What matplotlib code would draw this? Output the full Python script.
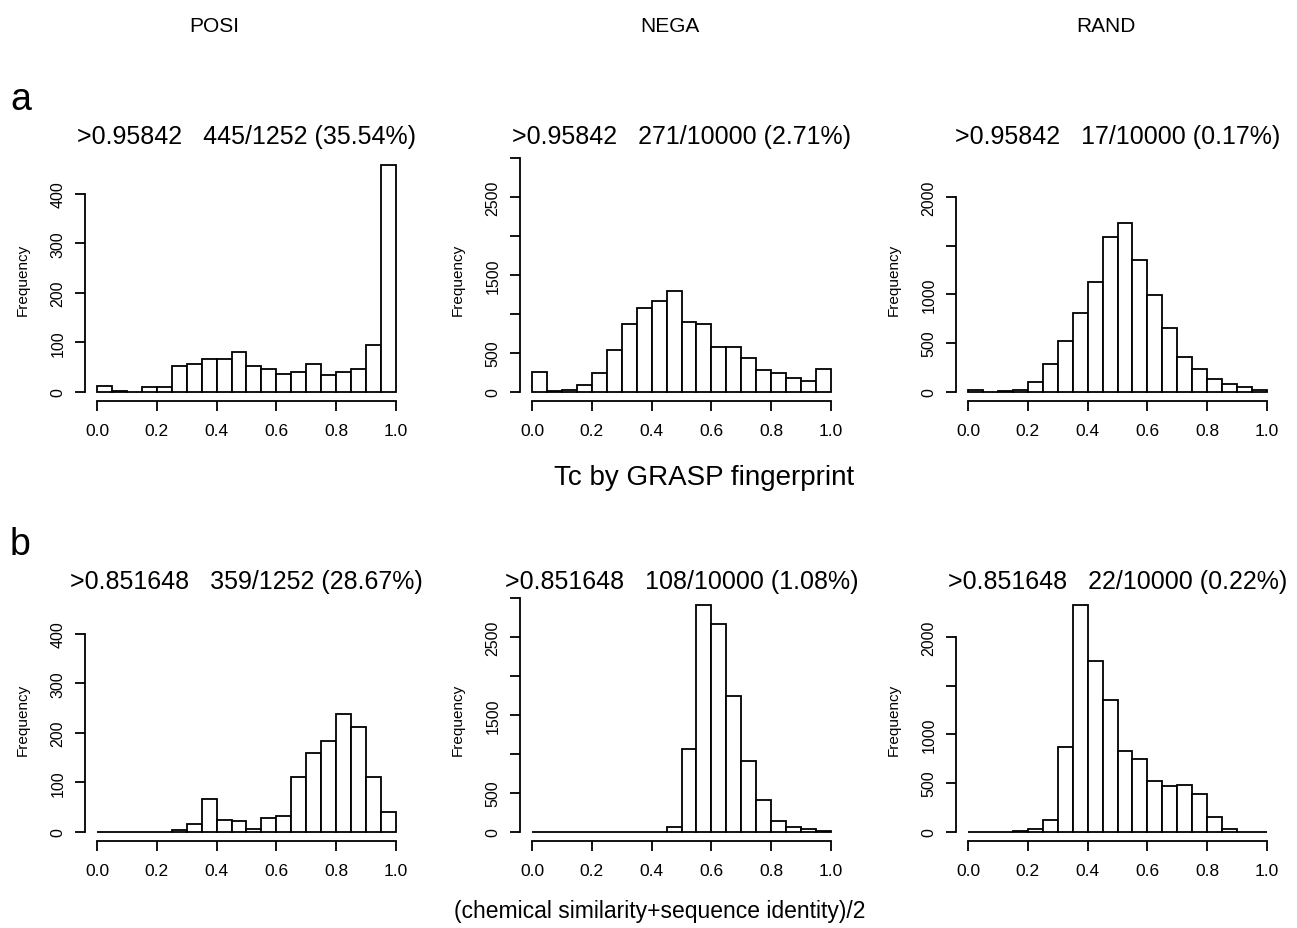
import numpy as np
import matplotlib
matplotlib.use('Agg')
import matplotlib.pyplot as plt

plt.rcParams['font.family'] = ['Liberation Sans', 'DejaVu Sans']

# bin edges of the histograms (20 bins of width 0.05)
bin_edges = np.linspace(0.0, 1.0, 21)

# row a: Tc by GRASP fingerprint
posi_tc = [11, 2, 0, 10, 9, 52, 57, 67, 67, 80, 52, 47, 36, 40, 57, 34, 40, 46, 95, 458]
nega_tc = [254, 8, 21, 93, 242, 542, 869, 1081, 1169, 1292, 903, 873, 581, 581, 432, 280, 246, 178, 136, 288]
rand_tc = [24, 3, 10, 24, 98, 288, 525, 810, 1125, 1586, 1729, 1353, 993, 651, 353, 231, 132, 78, 47, 24]

# row b: (chemical similarity + sequence identity) / 2
posi_mix = [0, 0, 0, 0, 0, 4, 15, 67, 25, 23, 5, 29, 33, 111, 160, 184, 238, 211, 110, 40]
nega_mix = [0, 0, 0, 0, 0, 0, 0, 0, 0, 68, 1062, 2910, 2673, 1739, 909, 406, 144, 68, 38, 17]
rand_mix = [0, 0, 0, 10, 31, 119, 869, 2326, 1749, 1351, 825, 750, 520, 472, 482, 387, 153, 31, 0, 0]

columns = ['POSI', 'NEGA', 'RAND']
titles_a = ['>0.95842   445/1252 (35.54%)',
            '>0.95842   271/10000 (2.71%)',
            '>0.95842   17/10000 (0.17%)']
titles_b = ['>0.851648   359/1252 (28.67%)',
            '>0.851648   108/10000 (1.08%)',
            '>0.851648   22/10000 (0.22%)']

yticks = [[0, 100, 200, 300, 400],
          [0, 500, 1000, 1500, 2000, 2500, 3000],
          [0, 500, 1000, 1500, 2000]]
ytick_labels = [['0', '100', '200', '300', '400'],
                ['0', '500', '', '1500', '', '2500', ''],
                ['0', '500', '1000', '', '2000']]
xticks = [0.0, 0.2, 0.4, 0.6, 0.8, 1.0]
xtick_labels = ['0.0', '0.2', '0.4', '0.6', '0.8', '1.0']

W, H = 1297, 929
fig = plt.figure(figsize=(W / 100, H / 100), dpi=100)

col_left = [85, 520, 956]
panel_w = 323
panel_h = 245
row_bottom = [402, 842]   # pixel y of plot region bottom, from the top

rows = [[posi_tc, nega_tc, rand_tc], [posi_mix, nega_mix, rand_mix]]
titles = [titles_a, titles_b]
title_pad = [9, 6]
lw = 1.3

for r in range(2):
    for c in range(3):
        left = col_left[c] / W
        bottom = (H - row_bottom[r]) / H
        ax = fig.add_axes([left, bottom, panel_w / W, panel_h / H])
        counts = rows[r][c]
        ax.bar(bin_edges[:-1], counts, width=np.diff(bin_edges), align='edge',
               facecolor='white', edgecolor='black', linewidth=lw)

        # same y range for both rows of a column
        m = max(max(rows[0][c]), max(rows[1][c]))
        ax.set_ylim(-0.04 * m, 1.04 * m)
        ax.set_xlim(-0.04, 1.04)

        ax.spines['top'].set_visible(False)
        ax.spines['right'].set_visible(False)
        ax.spines['left'].set_bounds(yticks[c][0], yticks[c][-1])
        ax.spines['bottom'].set_bounds(0.0, 1.0)
        for s in ('left', 'bottom'):
            ax.spines[s].set_linewidth(lw)

        ax.set_xticks(xticks)
        ax.set_xticklabels(xtick_labels, fontsize=12.5)
        ax.set_yticks(yticks[c])
        ax.set_yticklabels(ytick_labels[c], fontsize=11.5, rotation=90, va='center')
        ax.tick_params(axis='both', direction='out', length=7, width=lw)
        ax.tick_params(axis='x', pad=9)
        ax.tick_params(axis='y', pad=7)

        ax.set_ylabel('Frequency', fontsize=11)
        ax.yaxis.set_label_coords(-0.172, 0.5)
        ax.set_title(titles[r][c], fontsize=18, pad=title_pad[r])

# column headers
for name, x in zip(columns, [214, 670, 1106]):
    fig.text(x / W, 1 - 27 / H, name, fontsize=15, ha='center', va='center')

# panel letters
fig.text(10 / W, 1 - 110 / H, 'a', fontsize=27, ha='left', va='baseline')
fig.text(10 / W, 1 - 555 / H, 'b', fontsize=27, ha='left', va='baseline')

# x axis titles for each row
fig.text(704 / W, 1 - 478 / H, 'Tc by GRASP fingerprint', fontsize=20,
         ha='center', va='center')
fig.text(660 / W, 1 - 912 / H, '(chemical similarity+sequence identity)/2', fontsize=16.5,
         ha='center', va='center')

fig.savefig('out.png', dpi=100)
